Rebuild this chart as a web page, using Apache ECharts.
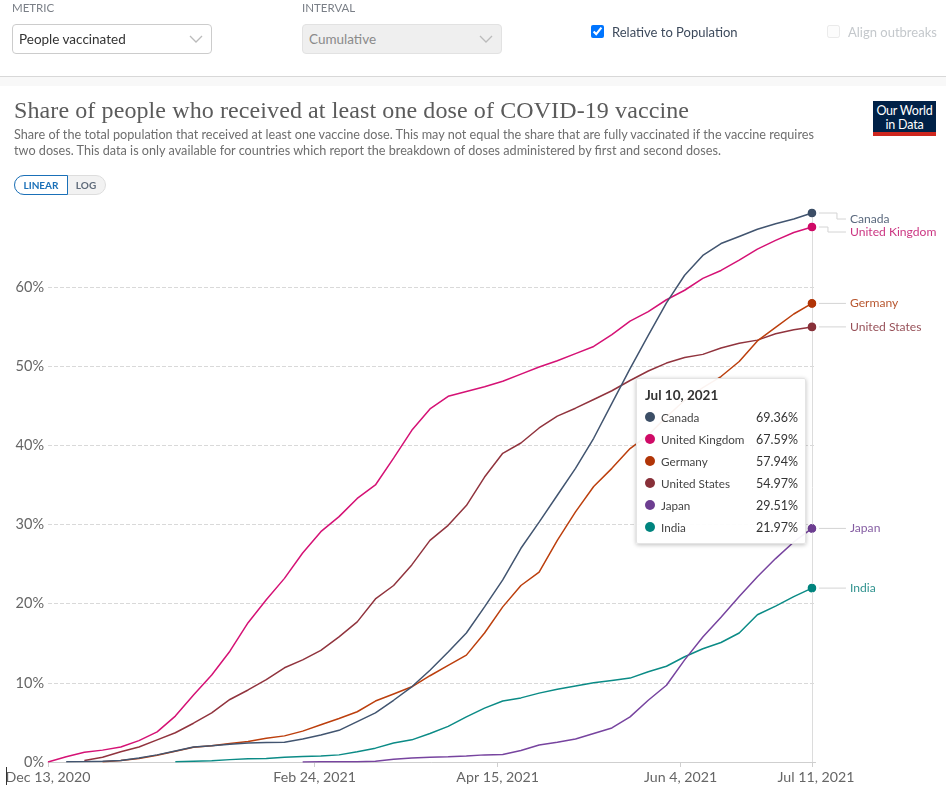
<!DOCTYPE html>
<html>
<head>
<meta charset="utf-8">
<title>Share of people who received at least one dose of COVID-19 vaccine</title>
<script src="https://cdn.jsdelivr.net/npm/echarts@6/dist/echarts.min.js"></script>
<style>
html, body { margin: 0; padding: 0; background: #fff; }
body { width: 946px; height: 798px; overflow: hidden; position: relative; font-family: Lato, sans-serif; }
#main { position: absolute; left: 0; top: 0; width: 946px; height: 798px; }
.abs { position: absolute; white-space: nowrap; }
.cap { font-size: 11.5px; color: #7a7f87; top: 1px; }
.sel { top: 24px; width: 198px; height: 28px; border: 1px solid #ccc; border-radius: 4px; font-size: 13.5px; line-height: 28px; text-indent: 6px; color: #333; }
.sel svg { position: absolute; right: 8px; top: 10px; }
.sel.off { background: #efefef; border-color: #e2e2e2; color: #8a8a8a; }
</style>
</head>
<body>
<div id="main"></div>

<div class="abs cap" style="left:12px">METRIC</div>
<div class="abs sel" style="left:12px">People vaccinated<svg width="14" height="8"><polyline points="1,1 7,7 13,1" fill="none" stroke="#bbb" stroke-width="1.3"/></svg></div>
<div class="abs cap" style="left:302px">INTERVAL</div>
<div class="abs sel off" style="left:302px">Cumulative<svg width="14" height="8"><polyline points="1,1 7,7 13,1" fill="none" stroke="#bbb" stroke-width="1.3"/></svg></div>
<input class="abs" type="checkbox" checked style="left:591px;top:25px;width:13px;height:13px;margin:0;accent-color:#0075ff">
<div class="abs" style="left:612px;top:24px;font-size:13px;color:#3d4a5c">Relative to Population</div>
<input class="abs" type="checkbox" disabled style="left:827px;top:25px;width:13px;height:13px;margin:0;opacity:.45">
<div class="abs" style="left:848px;top:24px;font-size:13px;color:#c4c8cc">Align outbreaks</div>
<div class="abs" style="left:0;top:76px;width:946px;height:1px;background:#d8d8d8"></div>
<div class="abs" style="left:0;top:77px;width:946px;height:9px;background:#f8f8f8"></div>

<div class="abs" id="title" style="left:14px;top:97px;font-family:'Liberation Serif',serif;font-size:24px;letter-spacing:0.1px;color:#5b5b5b">Share of people who received at least one dose of COVID-19 vaccine</div>
<div class="abs" style="left:14px;top:127px;font-size:12.66px;line-height:16px;color:#6e6e6e">Share of the total population that received at least one vaccine dose. This may not equal the share that are fully vaccinated if the vaccine requires<br>two doses. This data is only available for countries which report the breakdown of doses administered by first and second doses.</div>

<div class="abs" style="left:873px;top:101px;width:63px;height:35px;background:#002147;border-bottom:4px solid #ce261e;box-sizing:border-box;color:#fff;font-size:12.5px;line-height:13.5px;text-align:center;padding-top:3px;letter-spacing:-0.2px">Our World<br>in Data</div>

<div class="abs" style="left:14px;top:175px;width:90px;height:18px;background:#f2f2f2;border:1px solid #ddd;border-radius:10px"></div>
<div class="abs" style="left:14px;top:175px;width:52px;height:18px;background:#fff;border:1px solid #1a70b8;border-radius:10px 0 0 10px;font-size:10px;font-weight:700;line-height:19px;text-align:center;color:#1a70b8">LINEAR</div>
<div class="abs" style="left:67px;top:175px;width:38px;font-size:10px;font-weight:700;line-height:20px;text-align:center;color:#5f6b7a">LOG</div>

<div class="abs" style="left:6px;top:767px;width:1px;height:18px;background:#333"></div>

<script>
// days since Dec 13, 2020, sampled every 5 days
var days = [0,5,10,15,20,25,30,35,40,45,50,55,60,65,70,75,80,85,90,95,100,105,110,115,120,125,130,135,140,145,150,155,160,165,170,175,180,185,190,195,200,205,210];

var canada = [null,0.02,0.05,0.1,0.2,0.5,0.9,1.4,1.9,2.05,2.25,2.4,2.45,2.5,2.9,3.4,4.0,5.1,6.2,7.8,9.5,11.6,13.9,16.3,19.6,23.0,27.0,30.3,33.7,37.1,40.9,45.3,49.7,53.9,58.0,61.5,64.0,65.5,66.4,67.3,68.0,68.6,69.36];
var uk = [0,0.67,1.22,1.5,1.9,2.7,3.8,5.8,8.45,11.0,14.0,17.6,20.5,23.2,26.4,29.1,31.0,33.3,35.0,38.4,41.9,44.6,46.2,46.8,47.4,48.1,49.0,49.9,50.7,51.6,52.5,54.0,55.7,56.9,58.4,59.6,61.1,62.1,63.4,64.8,65.9,66.9,67.59];
var germany = [null,null,null,0.02,0.2,0.45,0.85,1.35,1.85,2.05,2.35,2.6,3.0,3.3,3.9,4.7,5.5,6.35,7.7,8.6,9.5,10.9,12.2,13.5,16.3,19.6,22.3,24.0,28.0,31.6,34.8,37.1,39.6,41.3,43.6,45.7,47.3,48.7,50.6,53.2,54.9,56.6,57.94];
var us = [null,null,0.2,0.6,1.3,1.9,2.8,3.7,4.9,6.2,7.9,9.1,10.4,11.9,12.9,14.1,15.8,17.7,20.6,22.3,24.9,28.0,29.9,32.4,36.0,39.0,40.3,42.2,43.7,44.7,45.8,46.9,48.2,49.4,50.4,51.1,51.5,52.3,52.9,53.3,54.1,54.6,54.97];
var japan = [null,null,null,null,null,null,null,null,null,null,null,null,null,null,0,0.02,0.02,0.03,0.1,0.35,0.5,0.6,0.65,0.75,0.9,0.95,1.45,2.15,2.5,2.9,3.6,4.3,5.7,7.8,9.7,12.9,15.8,18.3,20.9,23.4,25.7,27.8,29.51];
var india = [null,null,null,null,null,null,null,0.02,0.1,0.15,0.3,0.4,0.45,0.6,0.7,0.75,0.9,1.3,1.75,2.4,2.8,3.6,4.5,5.7,6.8,7.7,8.1,8.7,9.2,9.6,10.0,10.3,10.6,11.4,12.1,13.3,14.3,15.1,16.3,18.6,19.7,20.9,21.97];

var names = ['Canada','United Kingdom','Germany','United States','Japan','India'];
var values = [canada, uk, germany, us, japan, india];
var colors = ['#3c4e66','#cf0a66','#b13507','#883039','#6d3e91','#00847e'];
var lineColors = ['#3c4e66','#c2116b','#ab3a0c','#843039','#6d3e91','#0a7f7a'];

var tickDays = [0,73.3,123.6,173.9,210];
var tickLabels = ['Dec 13, 2020','Feb 24, 2021','Apr 15, 2021','Jun 4, 2021','Jul 11, 2021'];
var yTicks = [0,10,20,30,40,50,60];
var tipDate = 'Jul 10, 2021';

// pixels the end label sits below its dot
var labelShift = [6, 5, 0, 0, 0, 0];

var lastDay = days[days.length - 1];
var myChart = echarts.init(document.getElementById('main'));

var series = names.map(function (name, i) {
    return {
        name: name,
        type: 'line',
        showSymbol: false,
        smooth: false,
        lineStyle: { width: 1.5, color: lineColors[i] },
        itemStyle: { color: colors[i] },
        z: 6 - i + 2,
        data: days.map(function (d, k) { return [d, values[i][k]]; })
    };
});

// vertical rule at the last date
series[0].markLine = {
    silent: true,
    symbol: 'none',
    label: { show: false },
    lineStyle: { type: 'solid', color: '#dcdcdc', width: 1 },
    data: [[{ coord: [lastDay, 0] }, { coord: [lastDay, canada[canada.length - 1]] }]]
};

// dots, connector lines and names at the right end
series.push({
    type: 'custom',
    silent: true,
    z: 20,
    tooltip: { show: false },
    encode: { x: 0, y: 1 },
    data: names.map(function (name, i) { return [lastDay, values[i][values[i].length - 1], i]; }),
    renderItem: function (params, api) {
        var i = api.value(2);
        var p = api.coord([api.value(0), api.value(1)]);
        var shift = labelShift[i];
        var bend = i === 0 ? 25 : 16;
        return {
            type: 'group',
            children: [
                {
                    type: 'polyline',
                    shape: { points: shift ? [[p[0] + 7, p[1]], [p[0] + bend, p[1]], [p[0] + bend, p[1] + shift], [p[0] + 34, p[1] + shift]] : [[p[0] + 7, p[1]], [p[0] + 34, p[1]]] },
                    style: { fill: null, stroke: '#d4d4d4', lineWidth: 1 }
                },
                {
                    type: 'circle',
                    shape: { cx: p[0], cy: p[1], r: 4 },
                    style: { fill: colors[i] }
                },
                {
                    type: 'text',
                    style: {
                        x: p[0] + 38, y: p[1] + shift,
                        text: names[i],
                        fill: lineColors[i], opacity: 0.85,
                        font: '12.1px Lato',
                        textAlign: 'left', textVerticalAlign: 'middle'
                    }
                }
            ]
        };
    }
});

var option = {
    animation: false,
    textStyle: { fontFamily: 'Lato' },
    grid: { left: 48, top: 213, width: 767.6, height: 549, containLabel: false },
    xAxis: {
        type: 'value',
        min: 0,
        max: 211,
        splitLine: { show: false },
        axisLine: { show: true, lineStyle: { color: '#cfcfcf' } },
        axisTick: { show: true, length: 5, customValues: tickDays, lineStyle: { color: '#cfcfcf' } },
        axisLabel: {
            customValues: tickDays,
            margin: 8,
            fontSize: 14.2,
            color: '#666',
            rich: { last: { fontSize: 14.2, color: '#666', padding: [0, 0, 0, 8] } },
            formatter: function (v) {
                var text = tickLabels[tickDays.indexOf(v)];
                return v === lastDay ? '{last|' + text + '}' : text;
            }
        }
    },
    yAxis: {
        type: 'value',
        min: 0,
        max: 69.36,
        axisLine: { show: false },
        axisTick: { show: false, customValues: yTicks },
        splitLine: { show: true, lineStyle: { type: 'dashed', color: '#d9d9d9', width: 1 } },
        axisLabel: {
            customValues: yTicks,
            margin: 4,
            fontSize: 14.5,
            color: '#666',
            formatter: '{value}%'
        }
    },
    tooltip: {
        trigger: 'axis',
        alwaysShowContent: true,
        transitionDuration: 0,
        axisPointer: { type: 'none' },
        position: [636, 378],
        padding: 0,
        borderWidth: 1,
        borderColor: '#e4e4e4',
        backgroundColor: 'rgba(255,255,255,0.94)',
        extraCssText: 'box-shadow:0 1px 4px rgba(0,0,0,0.25);border-radius:2px;',
        formatter: function () {
            var html = '<div style="width:168px;height:164px;box-sizing:border-box;padding:7px 7px 0 8px;font-family:Lato;color:#333">';
            html += '<div style="font-size:13.5px;font-weight:700;line-height:18px;margin-bottom:3px">' + tipDate + '</div>';
            names.forEach(function (name, i) {
                var v = values[i][values[i].length - 1].toFixed(2);
                html += '<div style="position:relative;height:22px;line-height:22px;font-size:11.7px">'
                    + '<span style="position:absolute;left:0;top:5px;width:10px;height:10px;border-radius:5px;background:' + colors[i] + '"></span>'
                    + '<span style="position:absolute;left:16px;top:-1px;color:#444">' + name + '</span>'
                    + '<span style="position:absolute;right:0;top:0;font-size:12.5px">' + v + '%</span></div>';
            });
            return html + '</div>';
        }
    },
    series: series
};
myChart.setOption(option);
myChart.dispatchAction({ type: 'showTip', seriesIndex: 0, dataIndex: days.length - 1 });
</script>
</body>
</html>
